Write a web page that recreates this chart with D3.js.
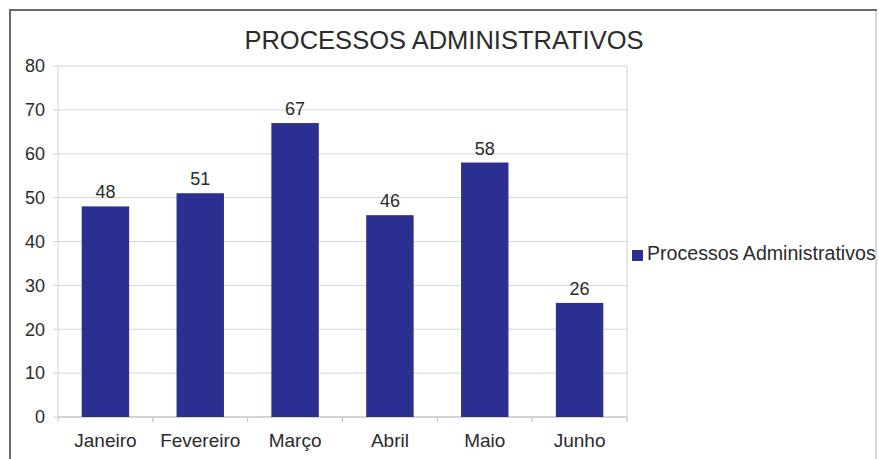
<!DOCTYPE html>
<html><head><meta charset="utf-8">
<script src="https://cdn.jsdelivr.net/npm/d3@7"></script>
<style>body{margin:0;background:#fff}svg{display:block}text{font-family:"Liberation Sans",Arial,sans-serif;fill:#2b2b2b}</style>
</head><body>
<script>
const categories = ["Janeiro","Fevereiro","Março","Abril","Maio","Junho"];
const values = [48,51,67,46,58,26];
const yTicks = [0,10,20,30,40,50,60,70,80];
const title = "PROCESSOS ADMINISTRATIVOS";
const seriesName = "Processos Administrativos";

const W=879,H=459;
const svg=d3.select("body").append("svg").attr("width",W).attr("height",H);
// frame
svg.append("path").attr("d","M10,459 L10,10 L877,10").attr("fill","none").attr("stroke","#6a6a6a").attr("stroke-width",2);
svg.append("line").attr("x1",876).attr("x2",876).attr("y1",11).attr("y2",459).attr("stroke","#d8d8d8").attr("stroke-width",2);

const L=58,R=627,T=66,B=417;
const x=d3.scaleBand().domain(categories).range([L,R]).paddingInner(0.5).paddingOuter(0.25);
const y=d3.scaleLinear().domain([0,80]).range([B,T]);

// gridlines
svg.append("g").selectAll("line").data(yTicks).join("line")
  .attr("x1",L-5).attr("x2",R).attr("y1",d=>y(d)).attr("y2",d=>y(d))
  .attr("stroke","#d6d6d6").attr("stroke-width",1);
// plot border lines
svg.append("line").attr("x1",L).attr("x2",L).attr("y1",T).attr("y2",B).attr("stroke","#cfcfcf");
svg.append("line").attr("x1",R).attr("x2",R).attr("y1",T).attr("y2",B).attr("stroke","#cfcfcf");
svg.append("line").attr("x1",L).attr("x2",R).attr("y1",B).attr("y2",B).attr("stroke","#bdbdbd");
// x category boundary ticks
const step=x.step();
svg.append("g").selectAll("line").data(d3.range(categories.length+1)).join("line")
  .attr("x1",i=>L+i*step).attr("x2",i=>L+i*step).attr("y1",B).attr("y2",B+5)
  .attr("stroke","#bdbdbd");

// y labels
svg.append("g").selectAll("text").data(yTicks).join("text")
  .attr("x",45).attr("y",d=>y(d)).attr("dy","0.35em").attr("text-anchor","end")
  .attr("font-size",18).text(d=>d);

// bars
svg.append("g").selectAll("rect").data(values).join("rect")
  .attr("x",(d,i)=>x(categories[i])).attr("width",x.bandwidth())
  .attr("y",d=>y(d)).attr("height",d=>y(0)-y(d)).attr("fill","#2b2f8f");
// value labels
svg.append("g").selectAll("text").data(values).join("text")
  .attr("x",(d,i)=>x(categories[i])+x.bandwidth()/2).attr("y",d=>y(d)-8)
  .attr("text-anchor","middle").attr("font-size",18).text(d=>d);
// x labels
svg.append("g").selectAll("text").data(categories).join("text")
  .attr("x",d=>x(d)+x.bandwidth()/2).attr("y",447)
  .attr("text-anchor","middle").attr("font-size",19).text(d=>d);

// title
svg.append("text").attr("x",444).attr("y",49).attr("text-anchor","middle").attr("font-size",25.5).text(title);

// legend
svg.append("rect").attr("x",632).attr("y",250).attr("width",11).attr("height",11).attr("fill","#2b2f8f");
svg.append("text").attr("x",647).attr("y",260).attr("font-size",19.6).text(seriesName);
</script>
</body></html>
